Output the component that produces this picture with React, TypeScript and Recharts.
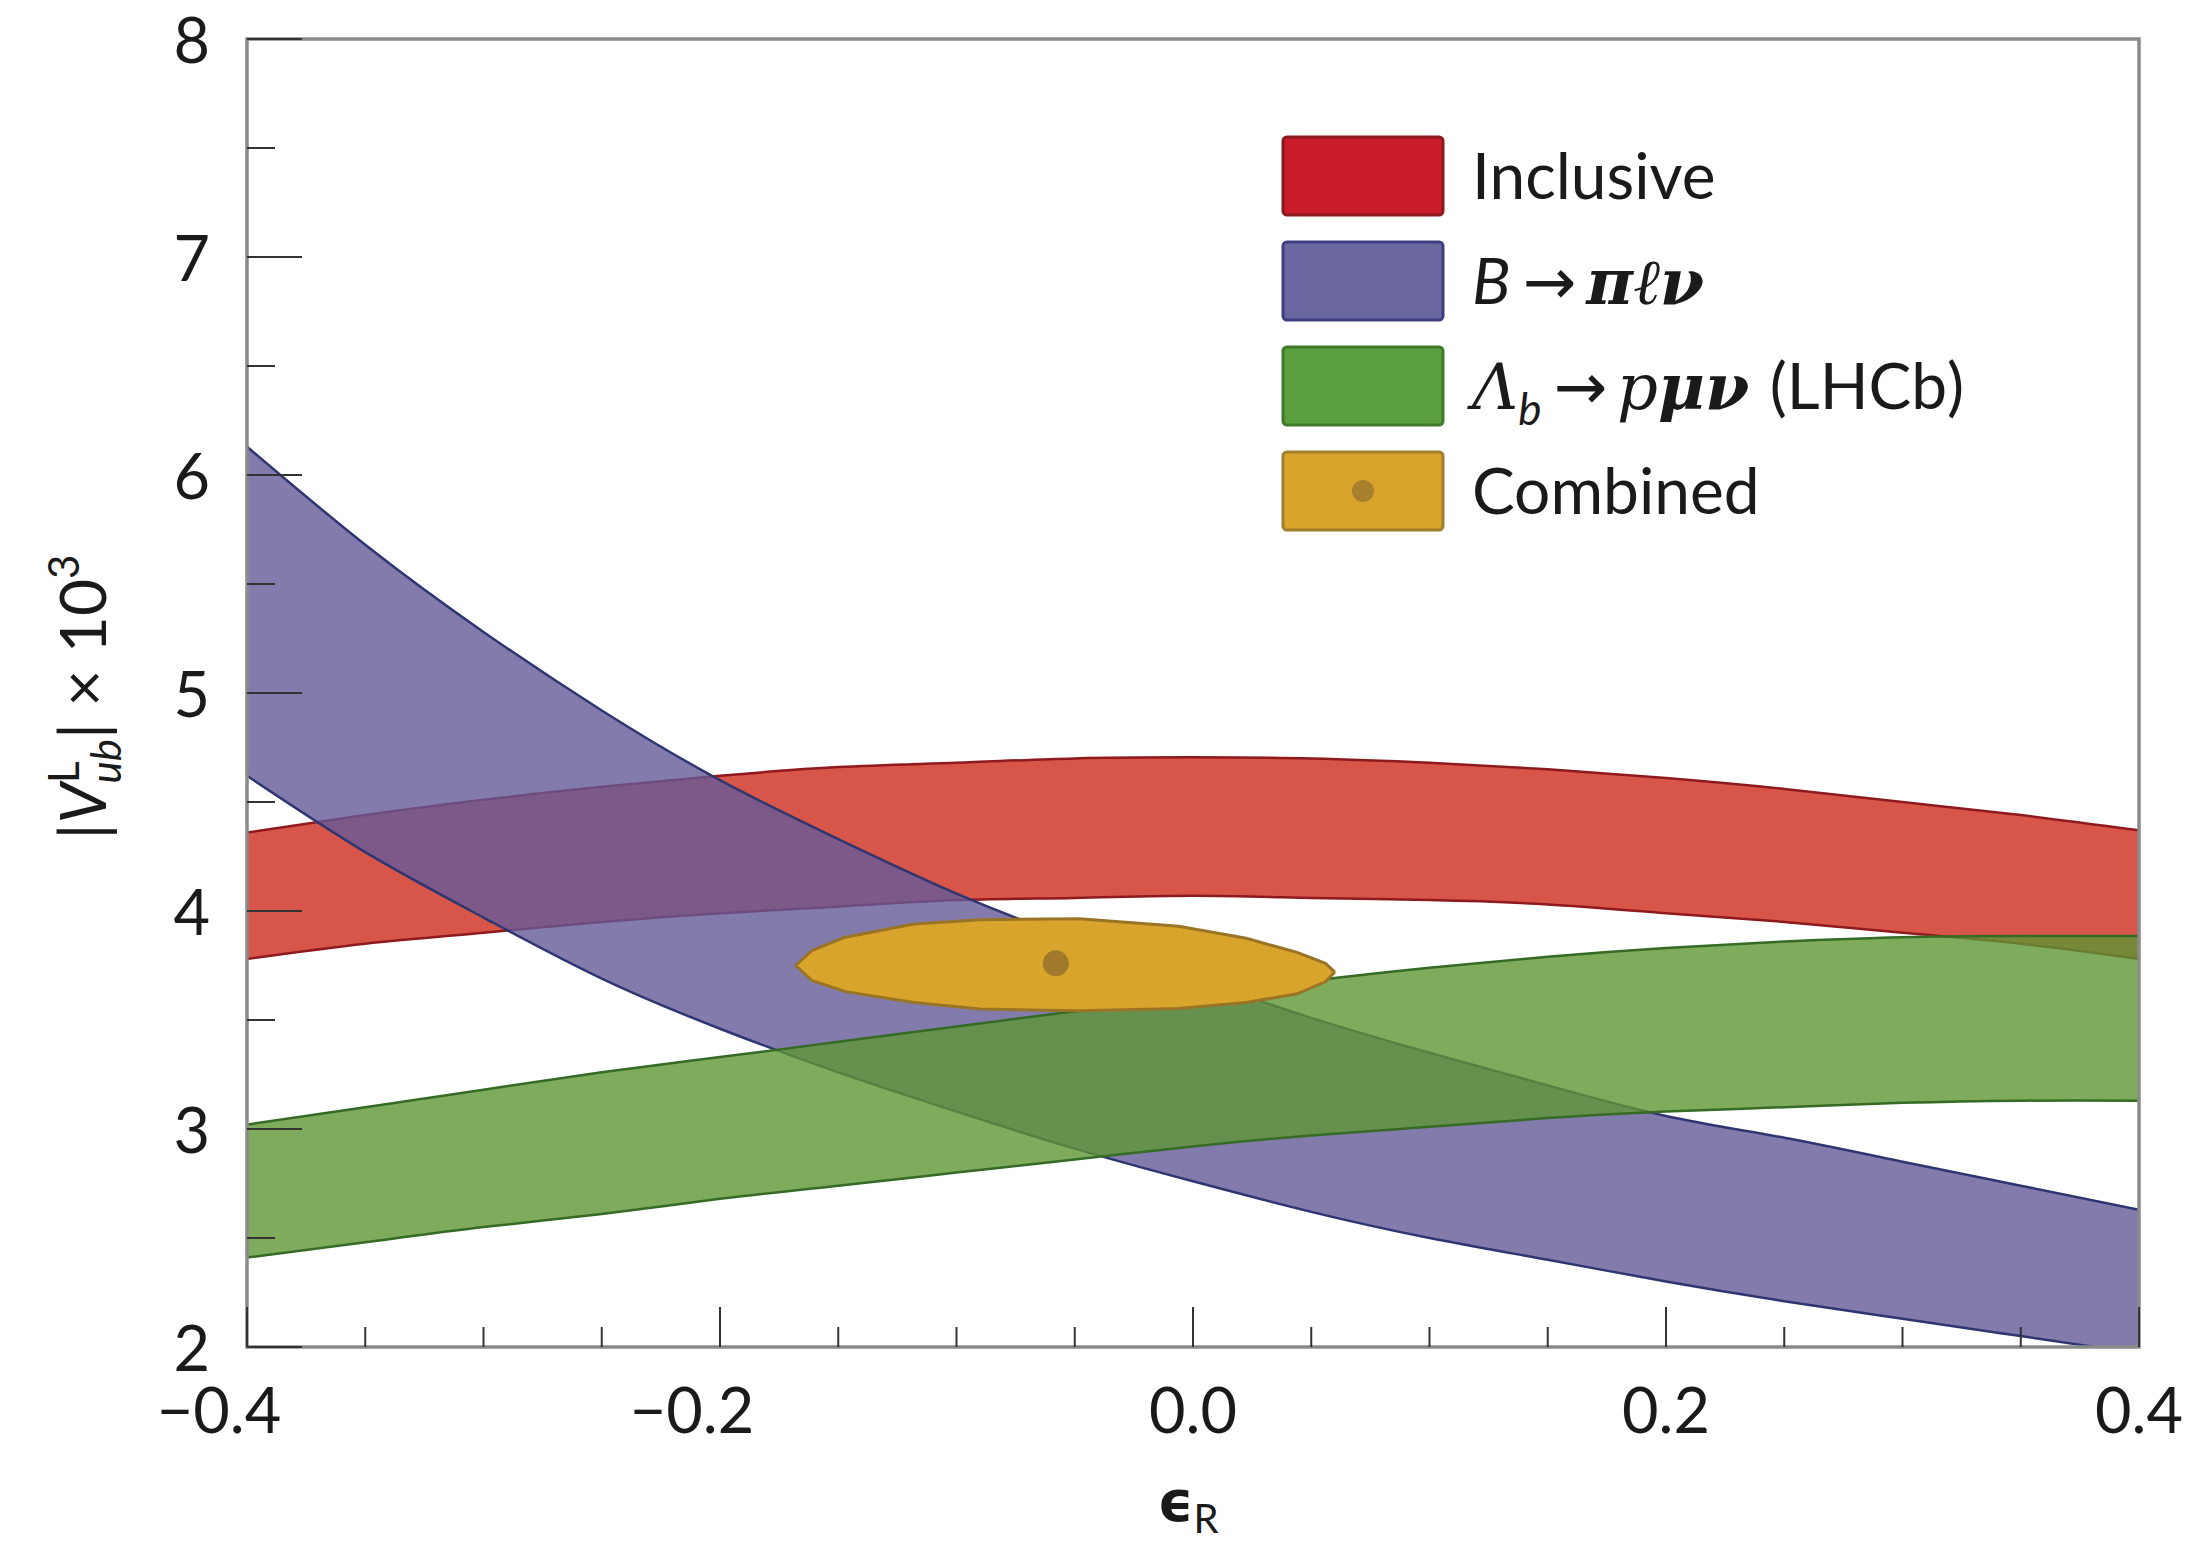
import React from "react";
import { ComposedChart, Area, Scatter, XAxis, YAxis, Legend, ReferenceArea } from "recharts";

// epsilon_R sample points
const epsR = [-0.4, -0.35, -0.3, -0.25, -0.2, -0.15, -0.1, -0.05, 0, 0.05, 0.1, 0.15, 0.2, 0.25, 0.3, 0.35, 0.4];

// |V_ub^L| x 10^3 band edges
const inclusiveLow = [3.78, 3.85, 3.9, 3.95, 3.99, 4.02, 4.05, 4.06, 4.07, 4.06, 4.05, 4.03, 3.99, 3.95, 3.9, 3.85, 3.78];
const inclusiveHigh = [4.36, 4.44, 4.51, 4.57, 4.62, 4.66, 4.68, 4.7, 4.705, 4.7, 4.68, 4.65, 4.61, 4.56, 4.5, 4.44, 4.37];
const bpiLow = [4.62, 4.27, 3.97, 3.69, 3.46, 3.26, 3.08, 2.91, 2.76, 2.62, 2.5, 2.4, 2.3, 2.21, 2.13, 2.05, 1.97];
const bpiHigh = [6.13, 5.68, 5.28, 4.92, 4.6, 4.33, 4.08, 3.87, 3.69, 3.51, 3.35, 3.2, 3.06, 2.96, 2.85, 2.74, 2.63];
const lhcbLow = [2.41, 2.48, 2.55, 2.61, 2.68, 2.74, 2.8, 2.86, 2.92, 2.97, 3.01, 3.05, 3.08, 3.1, 3.12, 3.13, 3.13];
const lhcbHigh = [3.02, 3.1, 3.18, 3.26, 3.33, 3.4, 3.47, 3.54, 3.61, 3.68, 3.74, 3.79, 3.83, 3.86, 3.88, 3.885, 3.885];

// combined 68% contour
const combinedX = [-0.168, -0.161, -0.147, -0.118, -0.09, -0.048, -0.006, 0.0225, 0.044, 0.056, 0.06];
const combinedLow = [3.75, 3.68, 3.63, 3.58, 3.55, 3.543, 3.553, 3.58, 3.62, 3.675, 3.72];
const combinedHigh = [3.75, 3.82, 3.88, 3.94, 3.96, 3.965, 3.93, 3.875, 3.81, 3.76, 3.72];
const bestFitX = -0.058;
const bestFitY = 3.76;

const xTicks = [-0.4, -0.35, -0.3, -0.25, -0.2, -0.15, -0.1, -0.05, 0, 0.05, 0.1, 0.15, 0.2, 0.25, 0.3, 0.35, 0.4];
const yTicks = [2, 2.5, 3, 3.5, 4, 4.5, 5, 5.5, 6, 6.5, 7, 7.5, 8];

const legendNames = ["Inclusive", "B → πℓν", "Λb → pμν (LHCb)", "Combined"];
const legendColors = ["#C91D2C", "#6A66A0", "#5A9E3E", "#D8A42C"];
const legendBorders = ["#8B1A1E", "#3E3E80", "#3F7A2A", "#A0802E"];

const data = epsR.map((x, i) => ({
  x,
  inclusive: [inclusiveLow[i], inclusiveHigh[i]],
  bpi: [bpiLow[i], bpiHigh[i]],
  lhcb: [lhcbLow[i], lhcbHigh[i]],
}));
const combined = combinedX.map((x, i) => ({ x, contour: [combinedLow[i], combinedHigh[i]] }));
const bestFit = [{ x: bestFitX, y: bestFitY }];

const FONT = "Lato, 'Open Sans', sans-serif";
const INK = "#1a1a1a";

const XTick = (props: any) => {
  const { x, y, payload } = props;
  const v = payload.value;
  const major = Math.abs(v * 5 - Math.round(v * 5)) < 1e-6;
  const label = v.toFixed(1).replace("-", "−");
  return (
    <g>
      <line x1={x} x2={x} y1={y} y2={y - (major ? 40 : 20)} stroke="#333" strokeWidth={2} />
      {major && (
        <text x={x + (v < -1e-9 ? -28 : 0)} y={y + 86} textAnchor="middle" fontFamily={FONT} fontSize={63} fill={INK}>
          {label}
        </text>
      )}
    </g>
  );
};

const YTick = (props: any) => {
  const { x, y, payload } = props;
  const v = payload.value;
  const major = Number.isInteger(v);
  return (
    <g>
      <line x1={x} x2={x + (major ? 55 : 28)} y1={y} y2={y} stroke="#333" strokeWidth={2} />
      {major && (
        <text x={x - 37} y={y + 24} textAnchor="end" fontFamily={FONT} fontSize={63} fill={INK}>
          {v}
        </text>
      )}
    </g>
  );
};

const YTitle = () => (
  <text transform="rotate(-90 106 697)" x={106} y={697} textAnchor="middle" fontFamily={FONT} fontSize={64} fill={INK}>
    <tspan>|</tspan>
    <tspan fontStyle="italic">V</tspan>
    <tspan fontSize={42} dy={-27}>L</tspan>
    <tspan fontSize={42} fontStyle="italic" dx={-22} dy={42}>ub</tspan>
    <tspan dy={-15}>| × 10</tspan>
    <tspan fontSize={42} dy={-27}>3</tspan>
  </text>
);

const XTitle = () => (
  <text x={1188} y={1521} textAnchor="middle" fill={INK}>
    <tspan fontFamily="'DejaVu Sans'" fontWeight="bold" fontSize={56}>ϵ</tspan>
    <tspan fontFamily={FONT} fontSize={40} dy={12}>R</tspan>
  </text>
);

const legendLabel = (i: number) => {
  const math = "'DejaVu Serif', serif";
  if (i === 1)
    return (
      <>
        <tspan fontStyle="italic">B</tspan>
        <tspan fontFamily="'DejaVu Sans'" dx={12}>→</tspan>
        <tspan fontFamily={math} fontStyle="italic" fontWeight="bold" dx={10}>π</tspan>
        <tspan fontFamily={math} fontStyle="italic">ℓ</tspan>
        <tspan fontFamily={math} fontStyle="italic" fontWeight="bold">ν</tspan>
      </>
    );
  if (i === 2)
    return (
      <>
        <tspan fontFamily={math} fontStyle="italic">Λ</tspan>
        <tspan fontStyle="italic" fontSize={44} dy={16}>b</tspan>
        <tspan fontFamily="'DejaVu Sans'" dx={12} dy={-16}>→</tspan>
        <tspan fontFamily={math} fontStyle="italic" dx={10}>p</tspan>
        <tspan fontFamily={math} fontStyle="italic" fontWeight="bold">μν</tspan>
        <tspan dx={4}> (LHCb)</tspan>
      </>
    );
  return legendNames[i];
};

const renderLegend = () => (
  <svg width={740} height={420}>
    {legendNames.map((name, i) => (
      <g key={name}>
        <rect x={13} y={12 + i * 105} width={160} height={78} rx={4} fill={legendColors[i]} stroke={legendBorders[i]} strokeWidth={3} />
        {i === 3 && <circle cx={93} cy={51 + i * 105} r={11} fill="#A8802E" />}
        <text x={202} y={74 + i * 105} fontFamily={FONT} fontSize={64} fill={INK}>
          {legendLabel(i)}
        </text>
      </g>
    ))}
  </svg>
);

export default function App() {
  return (
    <div style={{ position: "absolute", left: 0, top: 0, width: 2198, height: 1545, background: "#fff", fontFamily: FONT }}>
      <ComposedChart width={2198} height={1545} data={data} margin={{ top: 39, right: 59, bottom: 0, left: 0 }}>
        <Area type="natural" dataKey="inclusive" fill="#CD2C1C" fillOpacity={0.8} stroke="#8E1A1E" strokeWidth={2.5} isAnimationActive={false} activeDot={false} />
        <Area type="natural" dataKey="bpi" fill="#655A99" fillOpacity={0.8} stroke="#2F3570" strokeWidth={2.5} isAnimationActive={false} activeDot={false} />
        <Area type="natural" dataKey="lhcb" fill="#5F9634" fillOpacity={0.8} stroke="#356B25" strokeWidth={2.5} isAnimationActive={false} activeDot={false} />
        <Area type="linear" data={combined} dataKey="contour" fill="#D9A42B" fillOpacity={1} stroke="#9A7425" strokeWidth={3} isAnimationActive={false} activeDot={false} />
        <Scatter data={bestFit} dataKey="y" fill="#A07A2A" isAnimationActive={false} shape={(p: any) => <circle cx={p.cx} cy={p.cy} r={13} fill="#A07A2A" />} />
        <ReferenceArea x1={-0.4} x2={0.4} y1={2} y2={8} fill="none" stroke="#8a8a8a" strokeWidth={3.5} ifOverflow="visible" />
        <XAxis
          type="number"
          dataKey="x"
          domain={[-0.4, 0.4]}
          ticks={xTicks}
          interval={0}
          allowDataOverflow
          height={198}
          axisLine={false}
          tickLine={false}
          tickSize={0}
          tickMargin={0}
          tick={<XTick />}
          label={<XTitle />}
        />
        <YAxis
          type="number"
          domain={[2, 8]}
          ticks={yTicks}
          interval={0}
          allowDataOverflow
          width={247}
          axisLine={false}
          tickLine={false}
          tickSize={0}
          tickMargin={0}
          tick={<YTick />}
          label={<YTitle />}
        />
        <Legend
          layout="horizontal"
          verticalAlign="middle"
          align="center"
          content={renderLegend}
          wrapperStyle={{ position: "absolute", left: 1270, top: 125, width: 740, height: 420 }}
        />
      </ComposedChart>
    </div>
  );
}
